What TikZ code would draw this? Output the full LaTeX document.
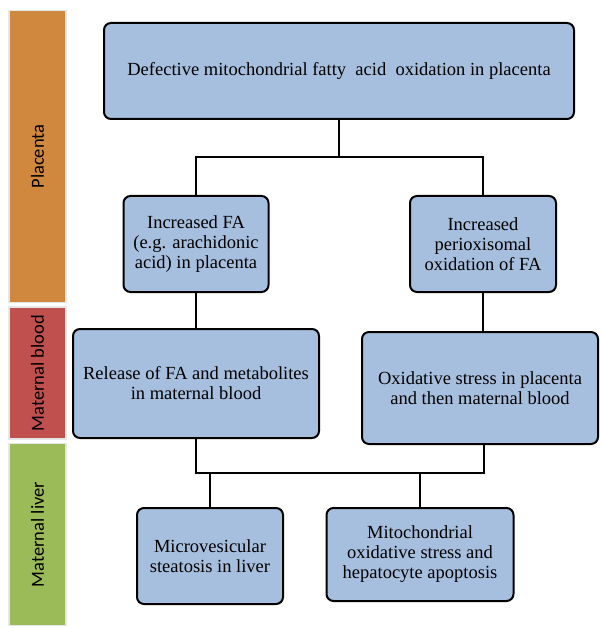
\documentclass[tikz,border=0pt]{standalone}
\usepackage{fontspec}
\setmainfont{Liberation Serif}
\newfontfamily\barfont{Carlito}
\definecolor{boxblue}{HTML}{A7BFDF}
\definecolor{barorange}{HTML}{CF883D}
\definecolor{barred}{HTML}{C0504D}
\definecolor{bargreen}{HTML}{9BBB59}
\definecolor{barframe}{HTML}{E6E6E6}
\tikzset{
  stepbox/.style={draw=black, line width=2pt, rounded corners=7pt, fill=boxblue,
    align=center, inner sep=2pt, font=\fontsize{18.5}{20}\selectfont},
  band/.style={draw=barframe, line width=1.5pt, minimum width=57pt},
  bandlabel/.style={rotate=90, font=\barfont\fontsize{18.5}{20}\selectfont},
  link/.style={draw=black, line width=2pt}
}
\begin{document}
\begin{tikzpicture}[x=1pt,y=-1pt]
\useasboundingbox (0,0) rectangle (600,628);
% region bands
\node[band, fill=barorange, minimum height=292pt] (placenta) at (37.5,156.5) {};
\node[band, fill=barred, minimum height=132pt] (blood) at (37.5,373) {};
\node[band, fill=bargreen, minimum height=182pt] (liver) at (37.5,534.5) {};
\node[bandlabel] (placentaL) at (placenta.center) {Placenta};
\node[bandlabel] (bloodL) at (blood.center) {Maternal blood};
\node[bandlabel] (liverL) at (liver.center) {Maternal liver};
% boxes
\node[stepbox, minimum width=470pt, minimum height=96pt] (top) at (339,71)
  {Defective mitochondrial fatty\ \ acid\ \ oxidation in placenta};
\node[stepbox, minimum width=145pt, minimum height=96pt] (fa) at (196,244)
  {Increased FA\\(e.g. arachidonic\\acid) in placenta};
\node[stepbox, minimum width=146pt, minimum height=96pt] (perox) at (483,244)
  {Increased\\perioxisomal\\oxidation of FA};
\node[stepbox, minimum width=246pt, minimum height=109pt] (release) at (196,383.5)
  {Release of FA and metabolites\\in maternal blood};
\node[stepbox, minimum width=236pt, minimum height=112pt] (oxid) at (480,388)
  {Oxidative stress in placenta\\and then maternal blood};
\node[stepbox, minimum width=146pt, minimum height=96pt] (micro) at (210,556)
  {Microvesicular\\steatosis in liver};
\node[stepbox, minimum width=187pt, minimum height=93pt] (mito) at (420,554.5)
  {Mitochondrial\\oxidative stress and\\hepatocyte apoptosis};
% junctions
\coordinate (j1) at (339,157);
\coordinate (j1l) at (196,157);
\coordinate (j1r) at (483,157);
\coordinate (j2l) at (196,473);
\coordinate (j2r) at (484,473);
% connectors
\draw[link] (top.south) -- (j1);
\draw[link] (fa.north) -- (j1l) -- (j1r) -- (perox.north);
\draw[link] (fa.south) -- (fa.south |- release.north);
\draw[link] (perox.south) -- (perox.south |- oxid.north);
\draw[link] (release.south) -- (j2l) -- (j2r) -- (j2r |- oxid.south);
\draw[link] (micro.north) -- (micro.north |- j2l);
\draw[link] (mito.north) -- (mito.north |- j2l);
\end{tikzpicture}
\end{document}
